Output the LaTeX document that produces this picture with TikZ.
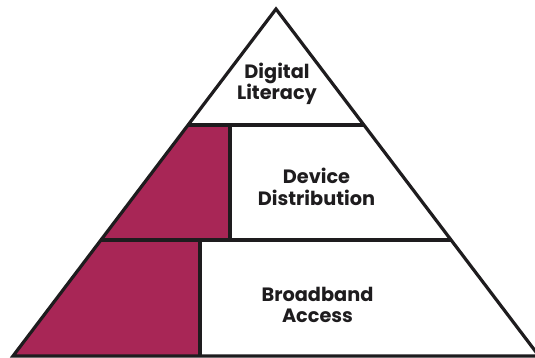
\documentclass[tikz,border=0pt]{standalone}
\usepackage{fontspec}
\setmainfont{Poppins}[BoldFont={* Bold}]
\usetikzlibrary{calc}
\definecolor{crimson}{RGB}{168,38,86}
\definecolor{ink}{RGB}{30,28,30}
\tikzset{
  edge/.style={draw=ink, line width=3.2pt, line join=miter},
  band/.style={fill=crimson},
  label/.style={font=\bfseries\fontsize{19.3}{21.5}\selectfont, text=ink, align=center, inner sep=0pt}
}
\begin{document}
\begin{tikzpicture}[x=1pt,y=-1pt]
  \useasboundingbox (0,0) rectangle (535,358);
  % corners of the pyramid
  \coordinate (A) at (276,9);
  \coordinate (L) at (13,356);
  \coordinate (R) at (539,356);
  % where the two dividing lines meet the slanted sides
  \coordinate (L1) at ($(A)!{116/347}!(L)$);
  \coordinate (R1) at ($(A)!{116/347}!(R)$);
  \coordinate (L2) at ($(A)!{231/347}!(L)$);
  \coordinate (R2) at ($(A)!{231/347}!(R)$);
  % feet of the vertical dividers
  \coordinate (V1t) at (230,125);
  \coordinate (V1b) at (230,240);
  \coordinate (V2t) at (200,240);
  \coordinate (V2b) at (200,356);

  % shaded parts of the lower two bands
  \fill[band] (L1) -- (V1t) -- (V1b) -- (L2) -- cycle;
  \fill[band] (L2) -- (V2t) -- (V2b) -- (L) -- cycle;

  % outline and dividers
  \draw[edge] (A) -- (L) -- (R) -- cycle;
  \draw[edge] (L1) -- (R1);
  \draw[edge] (L2) -- (R2);
  \draw[edge] (V1t) -- (V1b);
  \draw[edge] (V2t) -- (V2b);

  % band titles
  \node[label] (lit) at (277,84) {Digital\\Literacy};
  \node[label] (dev) at (316.5,187) {Device\\Distribution};
  \node[label] (bb)  at (317.5,305) {Broadband\\Access};
\end{tikzpicture}
\end{document}
